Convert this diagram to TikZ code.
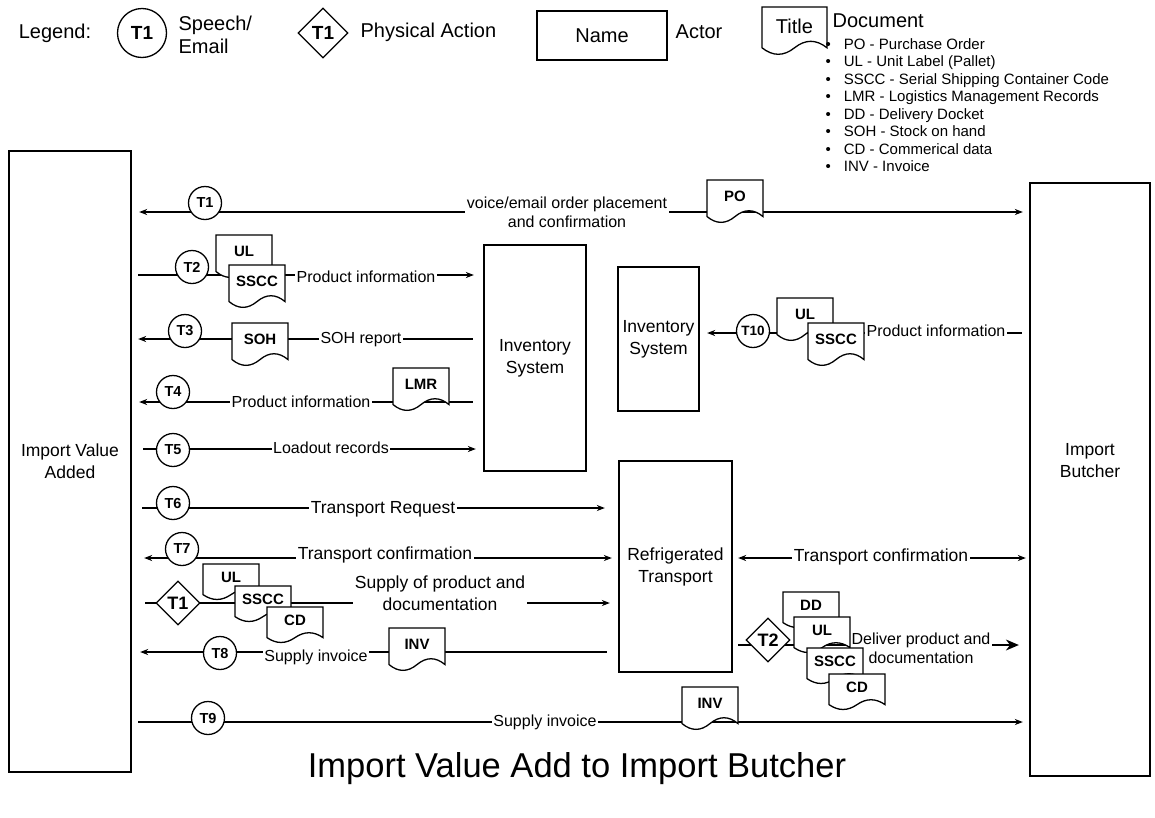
\documentclass[tikz,border=0pt]{standalone}
\usepackage{fontspec}
\setmainfont{Liberation Sans}
\usetikzlibrary{shapes.geometric,arrows.meta}
\newcommand\fsz[2]{\fontsize{#1}{#2}\selectfont}
\tikzset{
 actor/.style={draw, fill=white, align=center, font=\fsz{17.5}{22}, inner sep=0pt},
 tcirc/.style={circle, draw, fill=white, minimum size=33pt, inner sep=0pt, font=\bfseries\fsz{14.5}{16}},
 tdiam/.style={diamond, draw, fill=white, minimum width=44pt, minimum height=44pt, inner sep=0pt, font=\bfseries\fsz{18}{22}},
 lbl/.style={fill=white, inner xsep=1.5pt, inner ysep=0pt, align=center, font=\fsz{16}{19}},
 lblbig/.style={lbl, font=\fsz{17.5}{22}},
 docline/.style={draw, fill=white},
 doclbl/.style={inner sep=0pt, font=\bfseries\fsz{15}{17}},
 arr/.style={-{Stealth[length=8pt,width=6pt]}},
 arrb/.style={{Stealth[length=8pt,width=6pt]}-{Stealth[length=8pt,width=6pt]}},
 arrbig/.style={-{Stealth[length=13pt,width=11pt]}},
 leg/.style={anchor=west, inner sep=0pt, font=\fsz{20}{23}, align=left},
}
% name, x, y (top-left), width, height, label
\newcommand\docu[6]{%
  \draw[docline] (#2,#3) -- ({#2+#4},#3) -- ({#2+#4},{#3+0.85*#5})
    .. controls ({#2+5*#4/6},{#3+0.67*#5}) and ({#2+2*#4/3},{#3+0.67*#5}) .. ({#2+#4/2},{#3+0.85*#5})
    .. controls ({#2+#4/3},{#3+1.03*#5}) and ({#2+#4/6},{#3+1.03*#5}) .. (#2,{#3+0.85*#5}) -- cycle;
  \node[doclbl] (#1) at ({#2+#4/2},{#3+0.425*#5-1.5}) {#6};
}
\begin{document}
\begin{tikzpicture}[x=1pt,y=-1pt,line width=1.3pt]
\useasboundingbox (0,0) rectangle (1155,817);
\fill[white] (0,0) rectangle (1155,817);

% ---------- legend ----------
\node[leg, anchor=center] (leg) at (55,33) {Legend:};
\node[tcirc, minimum size=49pt, font=\bfseries\fsz{19}{22}] (legc) at (142,33) {T1};
\node[leg] (legce) at (178,34.5) {Speech/\\Email};
\node[tdiam, minimum width=50pt, minimum height=50pt, font=\bfseries\fsz{19}{22}] (legd) at (323,33) {T1};
\node[leg] (legde) at (360,32) {Physical Action};
\node[actor, minimum width=130pt, minimum height=49pt, font=\fsz{20}{24}] (legn) at (602,35.5) {Name};
\node[leg] (lega) at (675,32) {Actor};
{\tikzset{doclbl/.append style={font=\fsz{20}{24}}}\docu{legt}{762}{7}{65}{48}{Title}}
\node[leg] (legdoc) at (832,21) {Document};
\node[anchor=north west, inner sep=0pt, align=left, font=\fsz{15}{17.5}] (legl) at (825,37.5)
 {\textbullet\hspace{13pt}PO - Purchase Order\\
  \textbullet\hspace{13pt}UL - Unit Label (Pallet)\\
  \textbullet\hspace{13pt}SSCC - Serial Shipping Container Code\\
  \textbullet\hspace{13pt}LMR - Logistics Management Records\\
  \textbullet\hspace{13pt}DD - Delivery Docket\\
  \textbullet\hspace{13pt}SOH - Stock on hand\\
  \textbullet\hspace{13pt}CD - Commerical data\\
  \textbullet\hspace{13pt}INV - Invoice};

% ---------- actors ----------
\node[actor, minimum width=122pt, minimum height=621pt] (iva) at (70,461.5) {};
\node[actor, draw=none, fill=none] (ivalbl) at (70,461) {Import Value\\Added};
\node[actor, minimum width=120pt, minimum height=593pt] (ib) at (1090,479.5) {};
\node[actor, draw=none, fill=none] (iblbl) at (1090,461) {Import\\Butcher};
\node[actor, minimum width=102pt, minimum height=226pt] (inv1) at (535,358) {Inventory\\System};
\node[actor, minimum width=81pt, minimum height=144pt] (inv2) at (658.5,339) {Inventory\\System};
\node[actor, minimum width=113pt, minimum height=211pt] (rt) at (675.5,566.5) {Refrigerated\\Transport};

% ---------- row heights ----------
\coordinate (r1) at (0,212);
\coordinate (r2) at (0,275);
\coordinate (r3) at (0,339);
\coordinate (r4) at (0,402);
\coordinate (r5) at (0,449);
\coordinate (r6) at (0,508);
\coordinate (r7) at (0,558);
\coordinate (r1d) at (0,603);
\coordinate (r8) at (0,652);
\coordinate (r9) at (0,722);
\coordinate (r10) at (0,333);
\coordinate (r2d) at (0,645);

% ---------- connectors ----------
\draw[arrb] ([xshift=7.5pt]iva.east |- r1) -- ([xshift=-6.5pt]ib.west |- r1);
\draw[arr] ([xshift=6.5pt]iva.east |- r2) -- ([xshift=-9.5pt]inv1.west |- r2);
\draw[arr] ([xshift=-10.5pt]inv1.west |- r3) -- ([xshift=6.5pt]iva.east |- r3);
\draw[arr] ([xshift=-10.5pt]inv1.west |- r4) -- ([xshift=7.5pt]iva.east |- r4);
\draw[arr] ([xshift=11.5pt]iva.east |- r5) -- ([xshift=-7.5pt]inv1.west |- r5);
\draw[arr] ([xshift=10.5pt]iva.east |- r6) -- ([xshift=-13.5pt]rt.west |- r6);
\draw[arrb] ([xshift=12.5pt]iva.east |- r7) -- ([xshift=-6.5pt]rt.west |- r7);
\draw[arr] ([xshift=13.5pt]iva.east |- r1d) -- ([xshift=-8.5pt]rt.west |- r1d);
\draw[arr] ([xshift=-11.5pt]rt.west |- r8) -- ([xshift=8.5pt]iva.east |- r8);
\draw[arr] ([xshift=6.5pt]iva.east |- r9) -- ([xshift=-6.5pt]ib.west |- r9);
\draw[arrb] ([xshift=5.5pt]rt.east |- r7) -- ([xshift=-3.5pt]ib.west |- r7);
\draw[arr] ([xshift=-7.5pt]ib.west |- r10) -- ([xshift=7.5pt]inv2.east |- r10);
\draw[arrbig] ([xshift=5.5pt]rt.east |- r2d) -- ([xshift=-10.5pt]ib.west |- r2d);

% ---------- labels ----------
\node[lbl] (l1) at (567,212.5) {voice/email order placement\\and confirmation};
\node[lbl] (l2) at (366,277) {Product information};
\node[lbl] (l3) at (361,340) {SOH report};
\node[lbl] (l4) at (301,402) {Product information};
\node[lbl] (l5) at (331,448) {Loadout records};
\node[lblbig] (l6) at (383,509) {Transport Request};
\node[lblbig] (l7) at (385,555) {Transport confirmation};
\node[lblbig] (l1d) at (440,593) {Supply of product and\\documentation};
\node[lbl] (l8) at (316,657) {Supply invoice};
\node[lbl] (l9) at (545,722) {Supply invoice};
\node[lblbig] (ltc) at (881,557) {Transport confirmation};
\node[lbl] (l10) at (936,331) {Product information};
\node[lbl] (l2d) at (921,648.5) {Deliver product and\\documentation};

% ---------- transaction markers ----------
\node[tcirc] (t1) at (205,203) {T1};
\node[tcirc] (t2) at (192,267) {T2};
\node[tcirc] (t3) at (185,331) {T3};
\node[tcirc] (t4) at (173,392) {T4};
\node[tcirc] (t5) at (173,450) {T5};
\node[tcirc] (t6) at (173,503) {T6};
\node[tcirc] (t7) at (182,549) {T7};
\node[tcirc] (t8) at (220,653) {T8};
\node[tcirc] (t9) at (208,718) {T9};
\node[tcirc, font=\bfseries\fsz{13.5}{16}] (t10) at (753,331) {T10};
\node[tdiam] (d1) at (178,603) {T1};
\node[tdiam] (d2) at (768,640) {T2};

% ---------- documents ----------
\docu{po}{707}{180}{56}{43}{PO}
\docu{ulA}{216}{235}{56}{43}{UL}
\docu{ssccA}{229}{265}{56}{43}{SSCC}
\docu{soh}{232}{323}{56}{43}{SOH}
\docu{lmr}{393}{368}{56}{43}{LMR}
\docu{ulB}{203}{564}{56}{36}{UL}
\docu{ssccB}{235}{586}{56}{36}{SSCC}
\docu{cdB}{267}{607}{56}{36}{CD}
\docu{invA}{389}{628}{56}{43}{INV}
\docu{invB}{682}{687}{56}{43}{INV}
\docu{ulC}{777}{298}{56}{43}{UL}
\docu{ssccC}{808}{323}{56}{43}{SSCC}
\docu{dd}{783}{592}{56}{36}{DD}
\docu{ulD}{794}{617}{56}{36}{UL}
\docu{ssccD}{807}{648}{56}{36}{SSCC}
\docu{cdD}{829}{674}{56}{36}{CD}

% ---------- title ----------
\node[font=\fsz{34.5}{40}] (title) at (577,769) {Import Value Add to Import Butcher};
\end{tikzpicture}
\end{document}
